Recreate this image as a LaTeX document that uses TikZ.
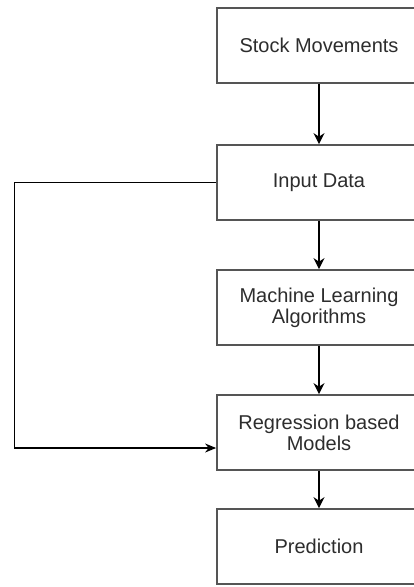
\documentclass[tikz,border=0pt]{standalone}
\usepackage{fontspec}
\setmainfont{Liberation Sans}
\usetikzlibrary{arrows.meta}
\definecolor{boxgray}{RGB}{85,85,85}
\definecolor{textgray}{RGB}{45,45,45}

\begin{document}
\begin{tikzpicture}[x=1pt, y=-1pt,
    flowbox/.style={draw=boxgray, line width=1.8pt, minimum width=204pt,
        minimum height=75pt, inner sep=0pt, align=center, text=textgray,
        font=\fontsize{20}{21}\selectfont},
    flowarrow/.style={black, line width=1.6pt, -{Stealth[length=11pt, width=11pt]}},
    loopline/.style={black, line width=1.2pt, -{Stealth[length=11pt, width=9pt]}}]
    \useasboundingbox (0,0) rectangle (414,587);
    \clip (0,0) rectangle (414,587);
    \fill[white] (0,0) rectangle (414,587);

    % Pipeline boxes
    \node[flowbox] (stock) at (319,45.5) {Stock Movements};
    \node[flowbox] (input) at (319,182.5) {Input Data};
    \node[flowbox] (ml) at (319,307.5) {Machine Learning\\Algorithms};
    \node[flowbox] (reg) at (319,432.5) {Regression based\\Models};
    \node[flowbox] (pred) at (319,546.5) {Prediction};

    % Downward flow
    \draw[flowarrow] (stock) -- (input);
    \draw[flowarrow] (input) -- (ml);
    \draw[flowarrow] (ml) -- (reg);
    \draw[flowarrow] (reg) -- (pred);

    % Feedback from input data to the regression models
    \draw[loopline] (input.west) -- ++(-202,0) |- ([yshift=-15.5pt]reg.west);
\end{tikzpicture}
\end{document}
